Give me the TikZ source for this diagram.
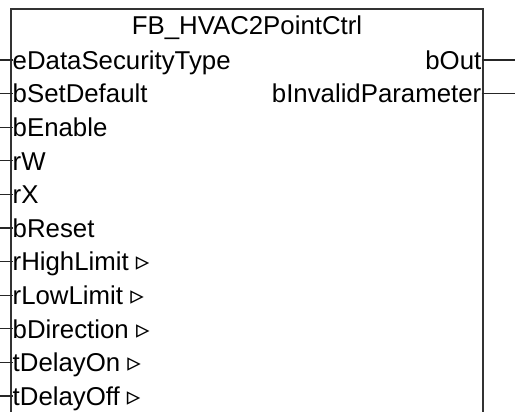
\documentclass[tikz,border=0pt]{standalone}
\usepackage{fontspec}
\setmainfont{Liberation Sans}
\newfontfamily\symfont{DejaVu Sans}
\usetikzlibrary{positioning}

% small open triangle after some input names
\newcommand{\pinmark}{\ {\symfont\fontsize{27}{30}\selectfont ▹}}

\begin{document}
\begin{tikzpicture}[
  x=1pt, y=-1pt,
  fbbox/.style={draw=black!80, line width=1.8pt},
  pinline/.style={draw=black!85, line width=1.3pt},
  pinlabel/.style={inner sep=0pt, text height=18.5pt, text depth=0pt,
    font=\fontsize{25.8}{30}\selectfont},
  fbtitle/.style={pinlabel}
]
\useasboundingbox (0,0) rectangle (515,412);

% function block body, open at the bottom
\draw[fbbox] (11,412) -- (11,9) -- (483,9) -- (483,412);
\node[fbtitle] (title) at (247,25) {FB\_HVAC2PointCtrl};

% inputs
\foreach \lbl [count=\i] in {eDataSecurityType, bSetDefault, bEnable, rW, rX, bReset,
    rHighLimit\pinmark, rLowLimit\pinmark, bDirection\pinmark, tDelayOn\pinmark, tDelayOff\pinmark}
{
  \coordinate (inpin\i) at (0,{60+33.6*(\i-1)});
  \node[pinlabel, anchor=west] (in\i) at (12.5,{60+33.6*(\i-1)}) {\lbl};
  \draw[pinline] (inpin\i) -- (in\i.west);
}

% outputs
\node[pinlabel, anchor=east] (bOut) at (481.5,60) {bOut};
\node[pinlabel, anchor=east] (bInvalid) at (481.5,93.6) {bInvalidParameter};
\coordinate (outpin1) at (515,60);
\coordinate (outpin2) at (515,93.6);
\draw[pinline] (bOut.east) -- (outpin1);
\draw[pinline] (bInvalid.east) -- (outpin2);
\end{tikzpicture}
\end{document}
